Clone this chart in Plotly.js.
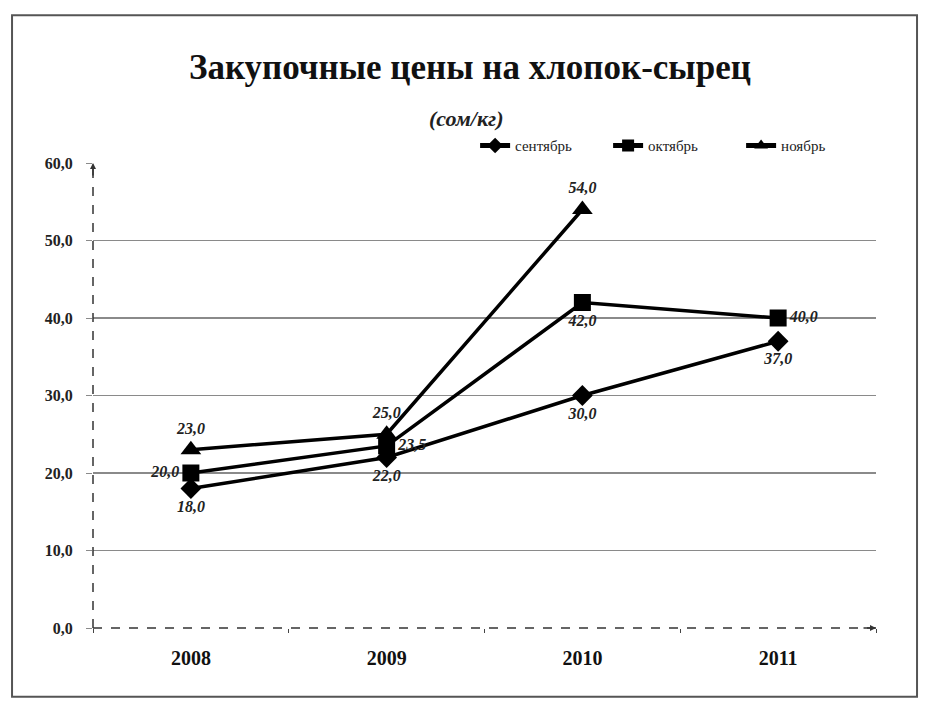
<!DOCTYPE html>
<html>
<head>
<meta charset="utf-8">
<script src="https://cdn.plot.ly/plotly-3.0.1.min.js"></script>
<style>html,body{margin:0;padding:0;background:#fff;}#chart{width:925px;height:713px;}</style>
</head>
<body>
<div id="chart"></div>
<script>
const years = ['2008', '2009', '2010', '2011'];
const september = [18.0, 22.0, 30.0, 37.0];
const october = [20.0, 23.5, 42.0, 40.0];
const november = [23.0, 25.0, 54.0, null];
const seriesNames = ['сентябрь', 'октябрь', 'ноябрь'];
const yTicks = [0, 10, 20, 30, 40, 50, 60];

const serif = 'Liberation Serif, DejaVu Serif, serif';
const labelFont = {family: serif, size: 16, color: '#222', weight: 'bold', style: 'italic'};

const traces = [
  {
    x: years, y: september, name: seriesNames[0], type: 'scatter', mode: 'lines+markers+text',
    line: {color: '#000', width: 3.5},
    marker: {symbol: 'diamond', size: 16, color: '#000'},
    texttemplate: '%{y:.1f}', textposition: ['bottom center','bottom center','bottom center','bottom center'],
    textfont: labelFont, cliponaxis: false
  },
  {
    x: years, y: october, name: seriesNames[1], type: 'scatter', mode: 'lines+markers+text',
    line: {color: '#000', width: 3.5},
    marker: {symbol: 'square', size: 17, color: '#000'},
    texttemplate: '%{y:.1f}', textposition: ['middle left','middle right','bottom center','middle right'],
    textfont: labelFont, cliponaxis: false
  },
  {
    x: years, y: november, name: seriesNames[2], type: 'scatter', mode: 'lines+markers+text',
    line: {color: '#000', width: 3.5},
    marker: {symbol: 'triangle-up', size: 18, color: '#000'},
    texttemplate: '%{y:.1f}', textposition: ['top center','top center','top center','top center'],
    textfont: labelFont, cliponaxis: false
  }
];

const layout = {
  width: 925, height: 713,
  margin: {l: 93, r: 49, t: 163, b: 85, autoexpand: false},
  paper_bgcolor: '#fff', plot_bgcolor: '#fff',
  separators: ', ',
  showlegend: true,
  title: {
    text: '<b>Закупочные цены на хлопок-сырец</b>',
    font: {family: serif, size: 35, color: '#111'},
    x: 0.508, xanchor: 'center', y: 0.907, yanchor: 'middle'
  },
  legend: {
    orientation: 'h', x: 0.488, xanchor: 'left', y: 1.037, yanchor: 'middle',
    font: {family: serif, size: 15, color: '#222'},
    bgcolor: 'rgba(0,0,0,0)', itemwidth: 30, tracegroupgap: 0,
    entrywidth: 88, entrywidthmode: 'pixels', itemsizing: 'constant'
  },
  xaxis: {
    type: 'category', categoryorder: 'array', categoryarray: years,
    range: [-0.5, 3.5], showgrid: false, zeroline: false, showline: false,
    ticks: 'outside', ticklen: 4, tickcolor: '#444', tickson: 'boundaries',
    ticklabelstandoff: 16, automargin: false,
    tickfont: {family: serif, size: 20, color: '#111', weight: 'bold'}
  },
  yaxis: {
    range: [0, 60], tickvals: yTicks, tickformat: '.1f',
    showgrid: true, gridcolor: '#8a8a8a', gridwidth: 1.5,
    zeroline: false, showline: false, automargin: false,
    ticks: 'outside', ticklen: 6, tickcolor: '#8a8a8a',
    ticklabelstandoff: 10,
    tickfont: {family: serif, size: 16, color: '#222', weight: 'bold'}
  },
  shapes: [
    {type: 'rect', xref: 'paper', yref: 'paper', x0: -0.1034, x1: 1.0524, y0: -0.148, y1: 1.318,
     line: {color: '#555', width: 2}, fillcolor: 'rgba(0,0,0,0)', layer: 'below'},
    {type: 'line', xref: 'paper', yref: 'paper', x0: 0, x1: 0, y0: 0, y1: 1.0,
     line: {color: '#333', width: 1.5, dash: 'dash'}},
    {type: 'line', xref: 'paper', yref: 'paper', x0: 0, x1: 1.0, y0: 0, y1: 0,
     line: {color: '#333', width: 1.5, dash: 'dash'}}
  ],
  annotations: [
    {text: '<b><i>(сом/кг)</i></b>', xref: 'paper', yref: 'paper', x: 0.477, y: 1.127,
     showarrow: false, font: {family: serif, size: 22, color: '#222'}},
    {xref: 'paper', yref: 'paper', x: 0, y: 1.0, ax: 0, ay: 14, text: '', showarrow: true,
     arrowhead: 2, arrowsize: 0.8, arrowwidth: 1.5, arrowcolor: '#333'},
    {xref: 'paper', yref: 'paper', x: 1.0, y: 0, ax: -14, ay: 0, text: '', showarrow: true,
     arrowhead: 2, arrowsize: 0.8, arrowwidth: 1.5, arrowcolor: '#333'}
  ]
};

Plotly.newPlot('chart', traces, layout, {displayModeBar: false, staticPlot: true});
</script>
</body>
</html>
